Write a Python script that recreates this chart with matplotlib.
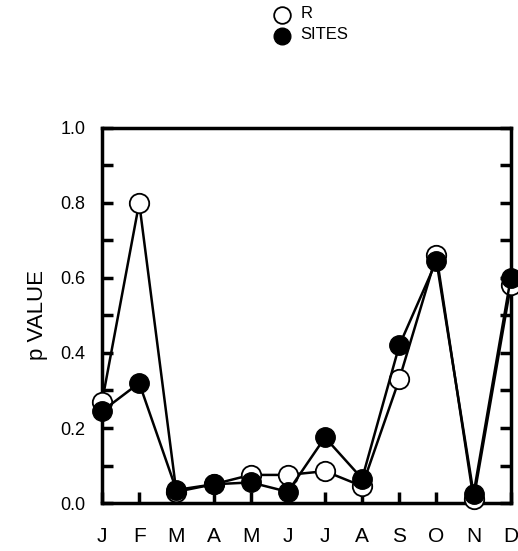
import matplotlib
matplotlib.use('Agg')
import matplotlib.pyplot as plt
from matplotlib.ticker import MultipleLocator

plt.rcParams['font.family'] = ['Liberation Sans', 'DejaVu Sans']

# monthly p values
months = ['J', 'F', 'M', 'A', 'M', 'J', 'J', 'A', 'S', 'O', 'N', 'D']
r_vals = [0.27, 0.80, 0.03, 0.05, 0.075, 0.075, 0.085, 0.045, 0.33, 0.66, 0.01, 0.58]
sites_vals = [0.245, 0.32, 0.035, 0.05, 0.055, 0.03, 0.175, 0.065, 0.42, 0.645, 0.025, 0.60]
ytick_vals = [0.0, 0.2, 0.4, 0.6, 0.8, 1.0]
ytick_labels = ['0.0', '0.2', '0.4', '0.6', '0.8', '1.0']

fig = plt.figure(figsize=(5.18, 5.51), dpi=100)
ax = fig.add_axes([0.197, 0.087, 0.789, 0.681])

x = list(range(len(months)))
ax.plot(x, r_vals, color='black', lw=1.8, marker='o', ms=14, mfc='white',
        mec='black', mew=1.3, clip_on=False, zorder=3)
ax.plot(x, sites_vals, color='black', lw=1.8, marker='o', ms=14, mfc='black',
        mec='black', clip_on=False, zorder=4)

ax.set_xlim(0, 11)
ax.set_ylim(0, 1.0)
ax.set_xticks(x)
ax.set_xticklabels(months, fontsize=15)
ax.set_yticks(ytick_vals)
ax.set_yticklabels(ytick_labels, fontsize=13)
ax.yaxis.set_minor_locator(MultipleLocator(0.1))
ax.tick_params(axis='both', which='both', direction='in', width=2.5, right=True)
ax.tick_params(axis='y', which='major', length=8, pad=12)
ax.tick_params(axis='y', which='minor', length=8)
ax.tick_params(axis='x', length=8, pad=17)
for s in ax.spines.values():
    s.set_linewidth(2.5)
ax.set_ylabel('p VALUE', fontsize=16, labelpad=9)

# legend at the top
lx, ty = 0.544, 0.972
fig.lines.append(plt.Line2D([lx], [ty], transform=fig.transFigure, marker='o',
                            ms=12, mfc='white', mec='black', mew=1.3))
fig.lines.append(plt.Line2D([lx], [ty - 0.037], transform=fig.transFigure, marker='o',
                            ms=12, mfc='black', mec='black'))
fig.text(lx + 0.036, ty + 0.003, 'R', fontsize=12, va='center')
fig.text(lx + 0.036, ty - 0.034, 'SITES', fontsize=12, va='center')

fig.savefig('out.png', dpi=100)
